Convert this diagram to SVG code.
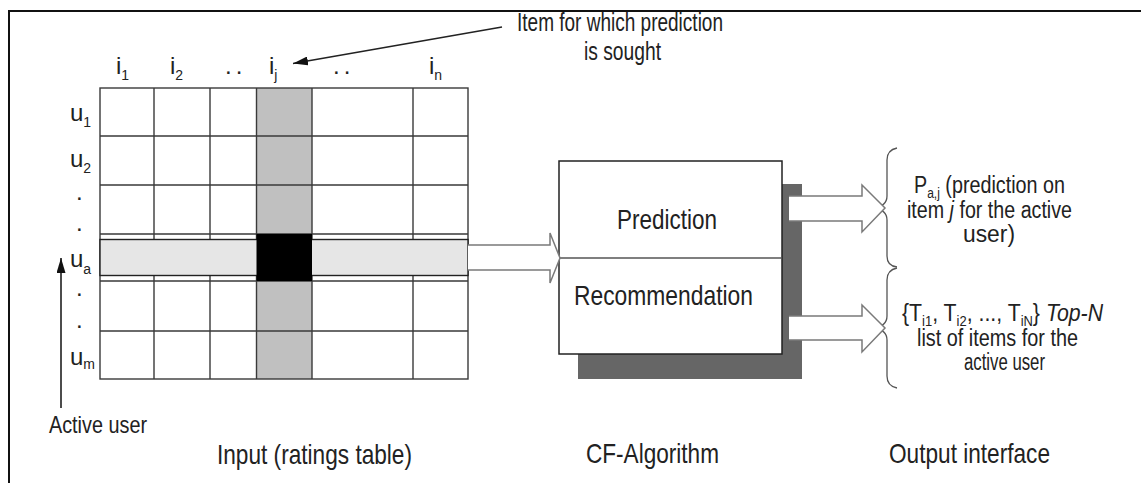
<svg xmlns="http://www.w3.org/2000/svg" width="1141" height="483" viewBox="0 0 1141 483">
<style>
text{font-family:"Liberation Sans",Arial,sans-serif;fill:#222}
.lbl{font-size:24px}
.sub{font-size:14px}
.big{font-size:28px}
.mid{font-size:23px}
.grid{stroke:#3a3a3a;stroke-width:1.4;fill:none}
.blk{fill:#fff;stroke:#7a7a7a;stroke-width:1.5}
.brace{fill:none;stroke:#555;stroke-width:1.3}
</style>
<defs>
<marker id="ah" viewBox="0 0 15 9" refX="15" refY="4.5" markerWidth="15" markerHeight="9" markerUnits="userSpaceOnUse" orient="auto">
<path d="M0,0 L15,4.5 L0,9 z" fill="#111"/>
</marker>
</defs>
<rect width="1141" height="483" fill="#fff"/>
<path d="M9,483 V11 H1141" fill="none" stroke="#111" stroke-width="2"/>

<g id="ratings-table">
<rect x="256.5" y="88" width="55.5" height="291" fill="#c0c0c0"/>
<rect x="100" y="88" width="368" height="291" class="grid"/>
<path class="grid" d="M100,136H468M100,185H468M100,234H468M100,281H468M100,331H468M154,88V379M210,88V379M256.5,88V379M312,88V379M413,88V379"/>
<rect x="100" y="239.5" width="368" height="36" fill="#e6e6e6" stroke="#222" stroke-width="1.4"/>
<rect x="256.5" y="234" width="55.5" height="47" fill="#000"/>
<g class="lbl">
<text x="116" y="74">i<tspan class="sub" dy="6">1</tspan></text>
<text x="170" y="74">i<tspan class="sub" dy="6">2</tspan></text>
<text x="225" y="74" letter-spacing="4">..</text>
<text x="269" y="74">i<tspan class="sub" dy="6">j</tspan></text>
<text x="333" y="74" letter-spacing="4">..</text>
<text x="429" y="74">i<tspan class="sub" dy="6">n</tspan></text>
<text x="70" y="121">u<tspan class="sub" dy="6">1</tspan></text>
<text x="70" y="167">u<tspan class="sub" dy="6">2</tspan></text>
<text x="76" y="200">.</text>
<text x="76" y="231">.</text>
<text x="70" y="267">u<tspan class="sub" dy="7">a</tspan></text>
<text x="76" y="296">.</text>
<text x="76" y="328">.</text>
<text x="70" y="365">u<tspan class="sub" dy="4">m</tspan></text>
</g>
<text class="big" x="217" y="464" textLength="195" lengthAdjust="spacingAndGlyphs">Input (ratings table)</text>
</g>

<g id="item-note">
<text x="517" y="31" font-size="25" textLength="206" lengthAdjust="spacingAndGlyphs">Item for which prediction</text>
<text x="584" y="60" font-size="25" textLength="77" lengthAdjust="spacingAndGlyphs">is sought</text>
</g>

<g id="active-user">
<text class="lbl" x="49" y="433" textLength="98" lengthAdjust="spacingAndGlyphs">Active user</text>
</g>

<g id="cf-algorithm">
<rect x="578" y="184" width="224" height="195" fill="#666"/>
<rect x="559" y="161" width="223" height="193" fill="#fff" stroke="#222" stroke-width="1.5"/>
<line x1="559" y1="258" x2="782" y2="258" stroke="#555" stroke-width="1.5"/>
<text class="big" x="617" y="229" textLength="100" lengthAdjust="spacingAndGlyphs">Prediction</text>
<text class="big" x="574" y="305" textLength="179" lengthAdjust="spacingAndGlyphs">Recommendation</text>
<text class="big" x="586" y="463" textLength="133" lengthAdjust="spacingAndGlyphs">CF-Algorithm</text>
</g>

<g id="output-interface">
<path class="brace" d="M897,148 Q887,150 887,160 L887,196 Q887,206 874,208 Q887,210 887,220 L887,256 Q887,266 897,267"/>
<path class="brace" d="M897,268 Q887,270 887,280 L887,316 Q887,326 874,328 Q887,330 887,340 L887,376 Q887,386 897,388"/>
<text class="mid" x="914" y="193" textLength="151" lengthAdjust="spacingAndGlyphs">P<tspan class="sub" dy="5">a,j</tspan><tspan dy="-5"> (prediction on</tspan></text>
<text class="mid" x="907" y="218" textLength="165" lengthAdjust="spacingAndGlyphs">item <tspan font-style="italic">j</tspan> for the active</text>
<text class="mid" x="963" y="242" textLength="52" lengthAdjust="spacingAndGlyphs">user)</text>
<text class="mid" x="902" y="321" textLength="201" lengthAdjust="spacingAndGlyphs">{T<tspan class="sub" dy="5">i1</tspan><tspan dy="-5">, T</tspan><tspan class="sub" dy="5">i2</tspan><tspan dy="-5">, ..., T</tspan><tspan class="sub" dy="5">iN</tspan><tspan dy="-5">} </tspan><tspan font-style="italic">Top-N</tspan></text>
<text class="mid" x="917" y="346" textLength="161" lengthAdjust="spacingAndGlyphs">list of items for the</text>
<text class="mid" x="964" y="370" textLength="81" lengthAdjust="spacingAndGlyphs">active user</text>
<text class="big" x="889" y="463" textLength="161" lengthAdjust="spacingAndGlyphs">Output interface</text>
</g>

<g id="connectors">
<path class="blk" d="M468,245 H550 V233 L560,258 L550,283 V270 H468"/>
<path class="blk" d="M789,196 H862 V185 L885,208 L862,232 V221 H789"/>
<path class="blk" d="M789,316 H862 V305 L885,328 L862,352 V340 H789"/>
<line x1="502" y1="27" x2="293" y2="63.5" stroke="#222" stroke-width="1.5" marker-end="url(#ah)"/>
<line x1="61" y1="408" x2="61" y2="258" stroke="#111" stroke-width="1.5" marker-end="url(#ah)"/>
</g>
</svg>
